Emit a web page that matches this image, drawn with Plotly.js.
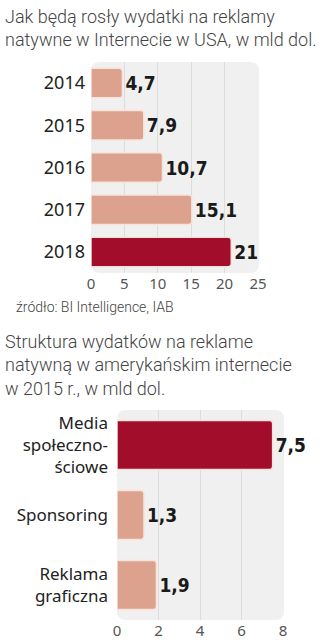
<!DOCTYPE html>
<html><head><meta charset="utf-8">
<script src="https://cdn.plot.ly/plotly-3.0.1.min.js"></script>
<style>html,body{margin:0;padding:0;background:#fff}#c{width:320px;height:640px}</style>
</head><body><div id="c"></div>
<script>
// Chart 1 data
const years = ['2014','2015','2016','2017','2018'];
const spend = [4.7, 7.9, 10.7, 15.1, 21];
const spendColors = ['#dca28e','#dca28e','#dca28e','#dca28e','#a30d2c'];
const xTicks1 = [0,5,10,15,20,25];
// Chart 2 data
const segments = ['Media<br>społeczno-<br>ściowe','Sponsoring','Reklama<br>graficzna'];
const segSpend = [7.5, 1.3, 1.9];
const segColors = ['#a30d2c','#dca28e','#dca28e'];
const xTicks2 = [0,2,4,6,8];

const title1 = 'Jak będą rosły wydatki na reklamy<br>natywne w Internecie w USA, w mld dol.';
const source1 = 'źródło: BI Intelligence, IAB';
const title2 = 'Struktura wydatków na reklame<br>natywną w amerykańskim internecie<br>w 2015 r., w mld dol.';

const fmt = v => String(v).replace('.', ',');
const W = 320, H = 640;
function px(x){return x/W;}
function py(y){return 1 - y/H;}
function roundRect(x0,y0,x1,y1,r){
  const rx=r/W, ry=r/H;
  const X0=px(x0),X1=px(x1),Y0=py(y0),Y1=py(y1);
  return `M${X0+rx},${Y0} L${X1-rx},${Y0} Q${X1},${Y0} ${X1},${Y0-ry} L${X1},${Y1+ry} Q${X1},${Y1} ${X1-rx},${Y1} L${X0+rx},${Y1} Q${X0},${Y1} ${X0},${Y1+ry} L${X0},${Y0-ry} Q${X0},${Y0} ${X0+rx},${Y0} Z`;
}

const valFont = {family:'DejaVu Sans Condensed', size:19, color:'#1a1a1a', weight:'bold'};
const catFont1 = {family:'Noto Sans', size:18, color:'#222'};
const catFont2 = {family:'Noto Sans', size:17, color:'#222'};
const tickFont = {family:'Noto Sans', size:15, color:'#555'};

const traces = [
  {type:'bar', orientation:'h', y:years, x:spend, xaxis:'x', yaxis:'y',
   marker:{color:spendColors, line:{color:'#f6e4dc', width:1.5}, cornerradius:3},
   text:spend.map(fmt), textposition:'outside', cliponaxis:false,
   textfont:valFont, hoverinfo:'skip'},
  {type:'bar', orientation:'h', y:segments, x:segSpend, xaxis:'x2', yaxis:'y2',
   marker:{color:segColors, line:{color:'#f6e4dc', width:1.5}, cornerradius:3},
   text:segSpend.map(fmt), textposition:'outside', cliponaxis:false,
   textfont:valFont, hoverinfo:'skip'}
];

const layout = {
  width:W, height:H, margin:{l:0,r:0,t:0,b:0},
  paper_bgcolor:'#fff', plot_bgcolor:'rgba(0,0,0,0)',
  showlegend:false, bargap:0.3,
  xaxis:{domain:[px(91),px(258)], range:[0,25], tickvals:xTicks1, ticktext:xTicks1.map(String),
    anchor:'y', showgrid:true, gridcolor:'#dcdcdc', gridwidth:1, zeroline:false, showline:false,
    ticks:'', tickfont:tickFont, fixedrange:true},
  yaxis:{domain:[py(273),py(62)], autorange:'reversed', type:'category', anchor:'x',
    showgrid:false, zeroline:false, showline:false, ticks:'', tickfont:catFont1, ticklabelstandoff:5},
  xaxis2:{domain:[px(117),px(283)], range:[0,8], tickvals:xTicks2, ticktext:xTicks2.map(String),
    anchor:'y2', showgrid:true, gridcolor:'#dcdcdc', gridwidth:1, zeroline:false, showline:false,
    ticks:'', tickfont:tickFont},
  yaxis2:{domain:[py(620),py(410)], autorange:'reversed', type:'category', anchor:'x2',
    showgrid:false, zeroline:false, showline:false, ticks:'', tickfont:catFont2, ticklabelstandoff:8},
  shapes:[
    {type:'path', xref:'paper', yref:'paper', path:roundRect(91,62,259,273,9), fillcolor:'#f0f0f0', line:{width:0}, layer:'below'},
    {type:'path', xref:'paper', yref:'paper', path:roundRect(117,410,284,620,9), fillcolor:'#f0f0f0', line:{width:0}, layer:'below'}
  ],
  annotations:[
    {text:title1, xref:'paper', yref:'paper', x:px(3), y:py(4), xanchor:'left', yanchor:'top', align:'left',
     showarrow:false, font:{family:'Roboto', size:18, color:'#444', weight:300}},
    {text:source1, xref:'paper', yref:'paper', x:px(14), y:py(307), xanchor:'left', yanchor:'middle', align:'left',
     showarrow:false, font:{family:'Roboto', size:14, color:'#444', weight:300}},
    {text:title2, xref:'paper', yref:'paper', x:px(3), y:py(329), xanchor:'left', yanchor:'top', align:'left',
     showarrow:false, font:{family:'Roboto', size:18, color:'#444', weight:300}}
  ]
};
Plotly.newPlot('c', traces, layout, {staticPlot:true, displayModeBar:false});
</script></body></html>
